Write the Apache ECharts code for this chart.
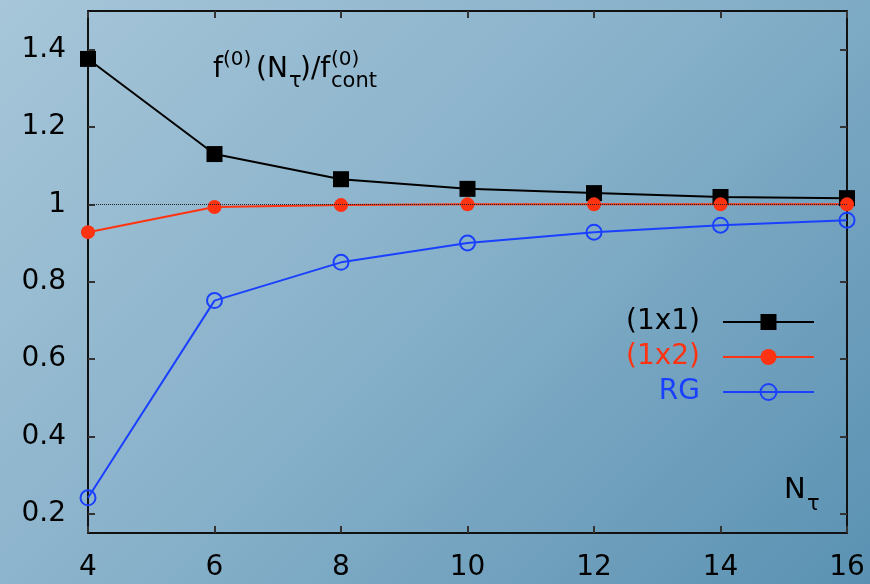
<!DOCTYPE html>
<html>
<head>
<meta charset="utf-8">
<script src="https://cdn.jsdelivr.net/npm/echarts@6/dist/echarts.min.js"></script>
<style>
html,body{margin:0;padding:0;}
#c{width:870px;height:584px;background:linear-gradient(135deg,#a7c6d9 0%,#86b0c9 50%,#5a91b2 100%);}
</style>
</head>
<body>
<div id="c"></div>
<script>
var xValues = [4, 6, 8, 10, 12, 14, 16];
var s1x1 = [1.376, 1.13, 1.065, 1.04, 1.029, 1.019, 1.016];
var s1x2 = [0.928, 0.993, 0.998, 1.0, 1.0, 1.0, 1.0];
var sRG = [0.241, 0.751, 0.85, 0.9, 0.928, 0.946, 0.959];
var yTicks = [0.2, 0.4, 0.6, 0.8, 1.0, 1.2, 1.4];
var seriesNames = ['(1x1)', '(1x2)', 'RG'];
var colors = ['#000000', '#ff3311', '#1a40ff'];

function pairs(vals) { return xValues.map(function (x, i) { return [x, vals[i]]; }); }

var font = 'DejaVu Sans, Verdana, sans-serif';
var chart = echarts.init(document.getElementById('c'), null, {renderer: 'canvas'});
var axisLine = {show: true, lineStyle: {color: '#111', width: 2}};
var tickStyle = {color: '#333', width: 2};
var option = {
  backgroundColor: 'transparent',
  animation: false,
  grid: {left: 88, right: 23, top: 11, bottom: 51, containLabel: false},
  xAxis: [{
    type: 'value', min: 4, max: 16, interval: 2,
    axisLine: axisLine,
    axisTick: {inside: true, length: 7, lineStyle: tickStyle},
    axisLabel: {fontSize: 28, color: '#000', fontFamily: font, margin: 21},
    splitLine: {show: false}
  }, {
    type: 'value', min: 4, max: 16, interval: 2, position: 'top',
    axisLine: axisLine,
    axisTick: {inside: true, length: 7, lineStyle: tickStyle},
    axisLabel: {show: false}, splitLine: {show: false}
  }],
  yAxis: [{
    type: 'value', min: 0.15, max: 1.5,
    axisLine: axisLine,
    axisTick: {inside: true, length: 7, lineStyle: tickStyle, customValues: yTicks},
    axisLabel: {fontSize: 28, color: '#000', fontFamily: font, margin: 22, customValues: yTicks,
      formatter: function (v) { return String(Math.round(v * 10) / 10); }},
    splitLine: {show: false}
  }, {
    type: 'value', min: 0.15, max: 1.5, position: 'right',
    axisLine: axisLine,
    axisTick: {inside: true, length: 7, lineStyle: tickStyle, customValues: yTicks},
    axisLabel: {show: false}, splitLine: {show: false}
  }],
  legend: {
    orient: 'vertical', right: 50, top: 303, align: 'right',
    itemWidth: 91, itemHeight: 20, itemGap: 7,
    data: [
      {name: seriesNames[0], textStyle: {color: colors[0]}},
      {name: seriesNames[1], textStyle: {color: colors[1]}},
      {name: seriesNames[2], textStyle: {color: colors[2]}}
    ],
    textStyle: {fontSize: 28, fontFamily: font, padding: [0, 18, 0, 0]}
  },
  series: [{
    name: seriesNames[0], type: 'line', data: pairs(s1x1),
    symbol: 'rect', symbolSize: 16,
    lineStyle: {color: colors[0], width: 2}, itemStyle: {color: colors[0]},
    markLine: {silent: true, symbol: 'none', label: {show: false},
      lineStyle: {color: '#222', type: 'dotted', width: 1},
      data: [{yAxis: 1}]}
  }, {
    name: seriesNames[1], type: 'line', data: pairs(s1x2),
    symbol: 'circle', symbolSize: 14,
    lineStyle: {color: colors[1], width: 2}, itemStyle: {color: colors[1]}
  }, {
    name: seriesNames[2], type: 'line', data: pairs(sRG),
    symbol: 'circle', symbolSize: 15, showAllSymbol: true,
    lineStyle: {color: colors[2], width: 2},
    itemStyle: {color: 'rgba(0,0,0,0)', borderColor: colors[2], borderWidth: 2}
  }],
  graphic: [
    {type: 'text', left: 213, top: 56, style: {text: 'f', fontSize: 28, fontFamily: font, fill: '#000'}},
    {type: 'text', left: 223, top: 50, style: {text: '(0)', fontSize: 20, fontFamily: font, fill: '#000'}},
    {type: 'text', left: 256, top: 56, style: {text: '(N', fontSize: 28, fontFamily: font, fill: '#000'}},
    {type: 'text', left: 289, top: 71, style: {text: 'τ', fontSize: 21, fontFamily: font, fill: '#000'}},
    {type: 'text', left: 300, top: 56, style: {text: ')/f', fontSize: 28, fontFamily: font, fill: '#000'}},
    {type: 'text', left: 331, top: 50, style: {text: '(0)', fontSize: 20, fontFamily: font, fill: '#000'}},
    {type: 'text', left: 331, top: 71, style: {text: 'cont', fontSize: 21, fontFamily: font, fill: '#000'}},
    {type: 'text', left: 784, top: 476, style: {text: 'N', fontSize: 29, fontFamily: font, fill: '#000'}},
    {type: 'text', left: 807, top: 494, style: {text: 'τ', fontSize: 21, fontFamily: font, fill: '#000'}}
  ]
};
chart.setOption(option);
</script>
</body>
</html>
